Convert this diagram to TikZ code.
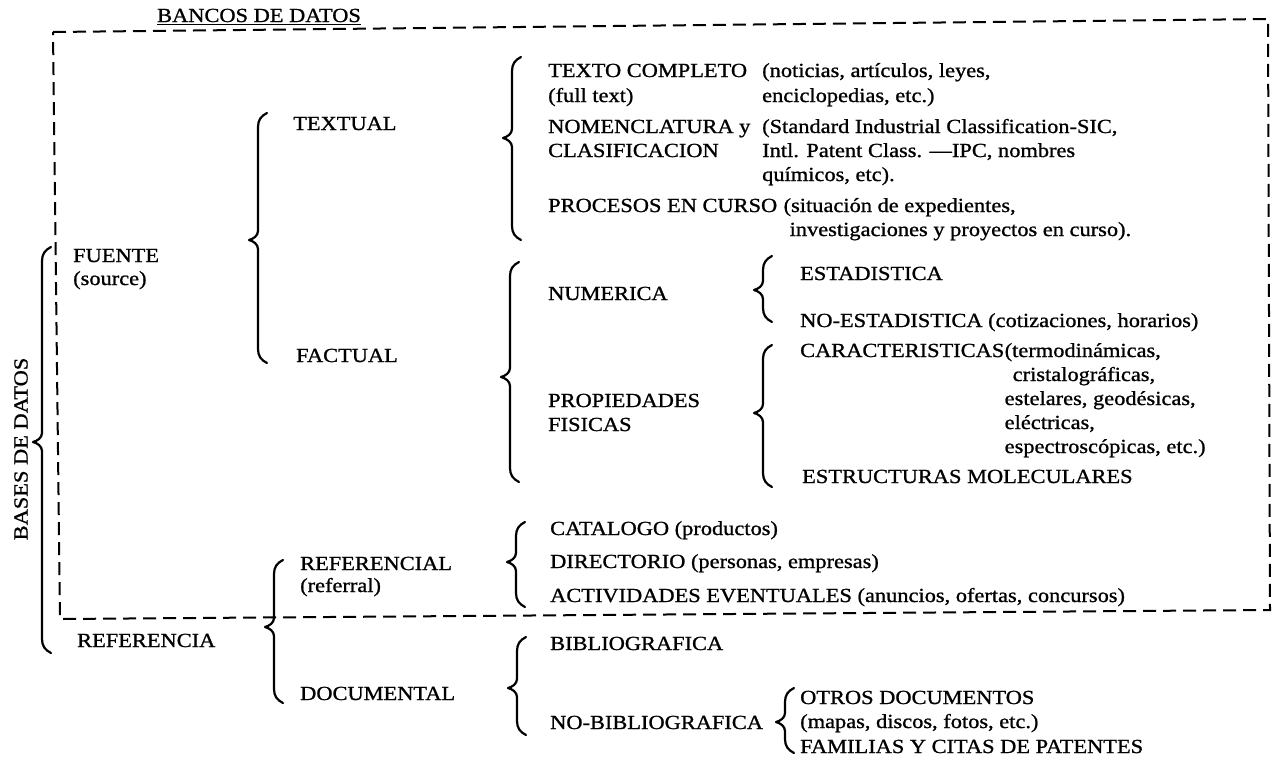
\documentclass[tikz,border=0pt]{standalone}
\usepackage{fontspec}
\setmainfont[FakeStretch=1.12,FakeBold=1]{Liberation Serif}
\begin{document}
\begin{tikzpicture}[x=1pt,y=-1pt,
  every node/.style={font=\fontsize{20}{24}\selectfont},
  lbl/.style={anchor=base west, inner sep=0pt},
  bracestyle/.style={line width=2.2pt, line cap=round, line join=round},
  boxstyle/.style={line width=2pt, dash pattern=on 13pt off 7pt}]
\useasboundingbox (0,0) rectangle (1278,764);
\newcommand\cbr[4]{\draw[bracestyle] (#1+9,#2) .. controls (#1+3,#2+3) and (#1,#2+7) .. (#1,#2+14) -- (#1,#3-9) .. controls (#1,#3-4) and (#1-5,#3-1) .. (#1-9,#3) .. controls (#1-5,#3+1) and (#1,#3+4) .. (#1,#3+9) -- (#1,#4-14) .. controls (#1,#4-7) and (#1+3,#4-3) .. (#1+9,#4);}
% dashed frame
\coordinate (tl) at (53,32);
\coordinate (tr) at (1268,19);
\coordinate (br) at (1270,610);
\coordinate (bl) at (60,619);
\draw[boxstyle] (tl) -- (tr) -- (br) -- (bl) -- cycle;
% title
\node[lbl] (bancos) at (157,22) {BANCOS DE DATOS};
\draw[line width=1.2pt] ([yshift=-2.5pt]bancos.base west) -- ([yshift=-2.5pt]bancos.base east);
% vertical
\node[rotate=90, inner sep=0pt] (bases) at (21,449) {BASES DE DATOS};
% braces
\cbr{42}{247}{442}{653}
\cbr{258}{113}{240}{363}
\cbr{512}{57}{138}{240}
\cbr{510}{262}{377}{482}
\cbr{763}{256}{290}{322}
\cbr{763}{345}{413}{487}
\cbr{516}{522}{562}{607}
\cbr{274}{560}{627}{703}
\cbr{517}{637}{688}{735}
\cbr{785}{688}{722}{753}
% level 1
\node[lbl] (fuente) at (73,262) {FUENTE};
\node[lbl] (source) at (73,285) {(source)};
\node[lbl] (referencia) at (77,647) {REFERENCIA};
% level 2
\node[lbl] (textual) at (293,130) {TEXTUAL};
\node[lbl] (factual) at (296,362) {FACTUAL};
\node[lbl] (referencial) at (300,570) {REFERENCIAL};
\node[lbl] (referral) at (300,592) {(referral)};
\node[lbl] (documental) at (300,700) {DOCUMENTAL};
% level 3 textual
\node[lbl] (texto) at (548,77) {TEXTO COMPLETO};
\node[lbl] (fulltext) at (548,102) {(full text)};
\node[lbl] (noticias) at (762,77) {(noticias, artículos, leyes,};
\node[lbl] (encicl) at (762,102) {enciclopedias, etc.)};
\node[lbl] (nomen) at (548,133) {NOMENCLATURA y};
\node[lbl] (clasif) at (548,157) {CLASIFICACION};
\node[lbl] (standard) at (762,133) {(Standard Industrial Classification-SIC,};
\node[lbl] (intl) at (762,157) {Intl. Patent Class. —IPC, nombres};
\node[lbl] (quim) at (762,181) {químicos, etc).};
\node[lbl] (procesos) at (548,212) {PROCESOS EN CURSO};
\node[lbl] (situacion) at ([xshift=6pt]procesos.base east) {(situación de expedientes,};
\node[lbl] (invest) at ([xshift=6pt,yshift=-24pt]situacion.base west) {investigaciones y proyectos en curso).};
% level 3 factual
\node[lbl] (numerica) at (548,300) {NUMERICA};
\node[lbl] (propied) at (548,407) {PROPIEDADES};
\node[lbl] (fisicas) at (548,431) {FISICAS};
\node[lbl] (estad) at (800,280) {ESTADISTICA};
\node[lbl] (noestad) at (800,327) {NO-ESTADISTICA (cotizaciones, horarios)};
\node[lbl] (caract) at (800,357) {CARACTERISTICAS};
\node[lbl] (termo) at (caract.base east) {(termodinámicas,};
\node[lbl] (cristal) at ([xshift=8pt,yshift=-24pt]termo.base west) {cristalográficas,};
\node[lbl] (estel) at ([yshift=-48pt]termo.base west) {estelares, geodésicas,};
\node[lbl] (electr) at ([yshift=-72pt]termo.base west) {eléctricas,};
\node[lbl] (espectro) at ([yshift=-96pt]termo.base west) {espectroscópicas, etc.)};
\node[lbl] (estruct) at (802,483) {ESTRUCTURAS MOLECULARES};
% referencial
\node[lbl] (catalogo) at (550,535) {CATALOGO (productos)};
\node[lbl] (directorio) at (550,568) {DIRECTORIO (personas, empresas)};
\node[lbl] (activ) at (550,602) {ACTIVIDADES EVENTUALES (anuncios, ofertas, concursos)};
% documental
\node[lbl] (biblio) at (550,650) {BIBLIOGRAFICA};
\node[lbl] (nobiblio) at (550,729) {NO-BIBLIOGRAFICA};
\node[lbl] (otros) at (800,704) {OTROS DOCUMENTOS};
\node[lbl] (mapas) at (800,728) {(mapas, discos, fotos, etc.)};
\node[lbl] (familias) at (800,753) {FAMILIAS Y CITAS DE PATENTES};
\end{tikzpicture}
\end{document}
